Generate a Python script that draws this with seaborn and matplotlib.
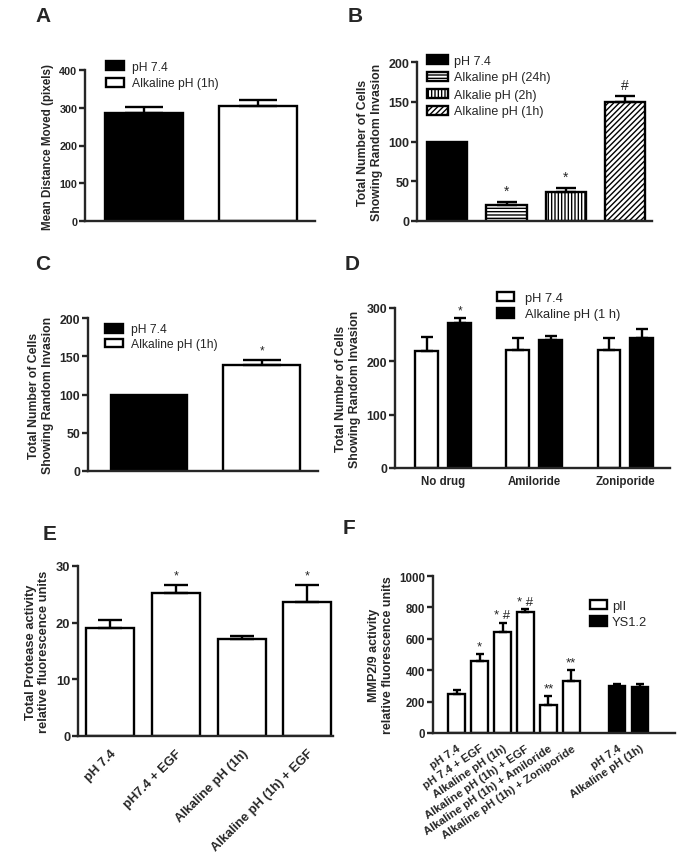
import matplotlib
matplotlib.use("Agg")
import numpy as np
import pandas as pd
import seaborn as sns
import matplotlib.pyplot as plt

# panel A - migration
a_groups = ["pH 7.4", "Alkaline pH (1h)"]
a_means = [287, 304]
a_sem = [15, 17]

# panel B - random invasion, time course
b_groups = ["pH 7.4", "Alkaline pH (24h)", "Alkalie pH (2h)", "Alkaline pH (1h)"]
b_means = [100, 20, 36.5, 149.5]
b_sem = [0, 4.5, 4.5, 8]
b_marks = ["", "*", "*", "#"]

# panel C - random invasion
c_groups = ["pH 7.4", "Alkaline pH (1h)"]
c_means = [100, 138]
c_sem = [0, 7.5]
c_marks = ["", "*"]

# panel D - NHE inhibitors
d_drugs = ["No drug", "Amiloride", "Zoniporide"]
d_conditions = ["pH 7.4", "Alkaline pH (1 h)"]
d_ph74 = [219, 221, 221]
d_ph74_sem = [27, 23, 22]
d_alk = [272, 240, 243]
d_alk_sem = [9, 8, 18]
d_alk_marks = ["*", "", ""]

# panel E - total protease activity
e_groups = ["pH 7.4", "pH7.4 + EGF", "Alkaline pH (1h)", "Alkaline pH (1h) + EGF"]
e_means = [19.0, 25.2, 17.2, 23.6]
e_sem = [1.5, 1.5, 0.4, 3.1]
e_marks = ["", "*", "", "*"]

# panel F - MMP2/9 activity
f_groups = ["pH 7.4", "pH 7.4 + EGF", "Alkaline pH (1h)", "Alkaline pH (1h) + EGF",
            "Alkaline pH (1h) + Amiloride", "Alkaline pH (1h) + Zoniporide",
            "pH 7.4", "Alkaline pH (1h)"]
f_cells = ["pII"] * 6 + ["YS1.2"] * 2
f_means = [250, 459, 641, 770, 176, 332, 300, 292]
f_sem = [25, 43, 62, 17, 59, 70, 9, 23]
f_marks = ["", "*", "* #", "* #", "**", "**", "", ""]

sns.set_style("ticks")
plt.rcParams["font.family"] = ["Liberation Sans", "DejaVu Sans"]
plt.rcParams["hatch.linewidth"] = 1.0

W, H = 683, 853
LW = 1.7
fig = plt.figure(figsize=(W / 100, H / 100), dpi=100)


def px_axes(l, t, r, b):
    return fig.add_axes([l / W, 1 - b / H, (r - l) / W, (b - t) / H])


def style(ax, yticks, size):
    sns.despine(ax=ax)
    ax.set_ylim(0, yticks[-1])
    ax.set_yticks(yticks)
    ax.tick_params(axis="y", length=4, width=LW, labelsize=size, pad=1.5)
    ax.tick_params(axis="x", length=0)
    for s in ["left", "bottom"]:
        ax.spines[s].set_linewidth(LW)
    plt.setp(ax.get_yticklabels(), fontweight="bold")
    ax.set_xlabel("")


def add_errors(ax, means, sems, capsize, marks=None, mark_size=8, mark_off=2):
    bars = sorted(ax.patches, key=lambda p: p.get_x())
    xs = [p.get_x() + p.get_width() / 2 for p in bars]
    for x, m, s in zip(xs, means, sems):
        if s > 0:
            ax.errorbar([x], [m], yerr=[[0], [s]], fmt="none", ecolor="black",
                        elinewidth=LW, capsize=capsize, capthick=LW)
    if marks:
        for x, m, s, t in zip(xs, means, sems, marks):
            if t:
                ax.annotate(t, xy=(x, m + s), xytext=(0, mark_off), textcoords="offset points",
                            ha="center", va="bottom", fontsize=mark_size)
    return bars


def legend(ax, handles, labels, x, y, size=8.7, hl=1.5, hh=0.75, ls=0.4, tp=0.65):
    ax.legend(handles, labels, loc="upper left", bbox_to_anchor=(x / W, 1 - y / H),
              bbox_transform=fig.transFigure, frameon=False, borderpad=0, borderaxespad=0,
              fontsize=size, handlelength=hl, handleheight=hh, labelspacing=ls,
              handletextpad=tp)


def panel_letter(x, y, s):
    fig.text(x / W, 1 - y / H, s, fontsize=15, fontweight="bold", ha="center", va="center")


# ---- A
ax = px_axes(85, 71, 315, 222)
sns.barplot(x=a_groups, y=a_means, hue=a_groups, palette=["black", "white"], saturation=1,
            edgecolor="black", linewidth=LW, width=0.68, legend=False, ax=ax)
bars = add_errors(ax, a_means, a_sem, capsize=14)
style(ax, [0, 100, 200, 300, 400], 7.8)
ax.set_xticks([])
ax.set_xlim(-0.52, 1.5)
ax.set_ylabel("Mean Distance Moved (pixels)", fontsize=8.4, fontweight="bold")
legend(ax, bars, a_groups, 106, 61.5)

# ---- B
ax = px_axes(417, 63, 652, 222)
sns.barplot(x=b_groups, y=b_means, hue=b_groups, palette=["black", "white", "white", "white"],
            saturation=1, edgecolor="black", linewidth=LW, width=0.68, legend=False, ax=ax)
bars = sorted(ax.patches, key=lambda p: p.get_x())
for p, h in zip(bars, ["", "-----", "|||||", "//////"]):
    p.set_hatch(h)
add_errors(ax, b_means, b_sem, capsize=7, marks=b_marks, mark_size=10, mark_off=3)
style(ax, [0, 50, 100, 150, 200], 9)
ax.set_xticks([])
ax.set_xlim(-0.51, 3.45)
ax.set_ylabel("Total Number of Cells\nShowing Random Invasion", fontsize=8.8, fontweight="bold")
legend(ax, bars, b_groups, 427, 55.5, size=9, hl=1.7, ls=0.4, tp=0.5)

# ---- C
ax = px_axes(88, 319, 318, 472)
sns.barplot(x=c_groups, y=c_means, hue=c_groups, palette=["black", "white"], saturation=1,
            edgecolor="black", linewidth=LW, width=0.68, legend=False, ax=ax)
bars = add_errors(ax, c_means, c_sem, capsize=14, marks=c_marks, mark_size=8.5, mark_off=2)
style(ax, [0, 50, 100, 150, 200], 8.8)
ax.set_xticks([])
ax.set_xlim(-0.54, 1.5)
ax.set_ylabel("Total Number of Cells\nShowing Random Invasion", fontsize=8.8, fontweight="bold")
legend(ax, bars, c_groups, 105, 324.5, ls=0.22)

# ---- D
d_df = pd.DataFrame({
    "drug": d_drugs * 2,
    "cond": [d_conditions[0]] * 3 + [d_conditions[1]] * 3,
    "val": d_ph74 + d_alk,
})
ax = px_axes(395, 309, 670, 469)
sns.barplot(data=d_df, x="drug", y="val", hue="cond", hue_order=d_conditions,
            palette=["white", "black"], saturation=1, edgecolor="black", linewidth=LW,
            width=0.72, gap=0.3, legend=False, ax=ax)
d_means = [v for pair in zip(d_ph74, d_alk) for v in pair]
d_sems = [v for pair in zip(d_ph74_sem, d_alk_sem) for v in pair]
d_marks = [v for pair in zip([""] * 3, d_alk_marks) for v in pair]
bars = add_errors(ax, d_means, d_sems, capsize=4.5, marks=d_marks, mark_size=8.5, mark_off=1)
style(ax, [0, 100, 200, 300], 8.8)
ax.set_xlim(-0.53, 2.49)
ax.tick_params(axis="x", labelsize=8.3, pad=5)
plt.setp(ax.get_xticklabels(), fontweight="bold")
ax.set_ylabel("Total Number of Cells\nShowing Random Invasion", fontsize=8.8, fontweight="bold")
legend(ax, bars[:2], d_conditions, 497, 292.5, size=9.3, hl=1.3, tp=0.85, ls=0.35)

# ---- E
ax = px_axes(78, 567, 333, 737)
sns.barplot(x=e_groups, y=e_means, color="white", saturation=1, edgecolor="black",
            linewidth=LW, width=0.73, ax=ax)
add_errors(ax, e_means, e_sem, capsize=8.5, marks=e_marks, mark_size=9, mark_off=2)
style(ax, [0, 10, 20, 30], 9.3)
ax.set_xlim(-0.49, 3.39)
ax.set_xticks(range(len(e_groups)))
ax.set_xticklabels(e_groups, rotation=45, ha="right", rotation_mode="anchor",
                   fontsize=9.3, fontweight="bold")
ax.tick_params(axis="x", pad=8)
ax.set_ylabel("Total Protease activity\nrelative fluorescence units", fontsize=9.3,
              fontweight="bold")

# ---- F
f_pos = [i + (c == "YS1.2") for i, c in enumerate(f_cells)]
f_df = pd.DataFrame({"pos": f_pos, "val": f_means, "cell": f_cells})
ax = px_axes(433, 577, 675, 734)
sns.barplot(data=f_df, x="pos", y="val", hue="cell", native_scale=True, dodge=False,
            palette={"pII": "white", "YS1.2": "black"}, saturation=1, edgecolor="black",
            linewidth=LW, width=0.72, legend=False, ax=ax)
bars = add_errors(ax, f_means, f_sem, capsize=3, marks=f_marks, mark_size=9.5, mark_off=1)
style(ax, [0, 200, 400, 600, 800, 1000], 8.3)
ax.set_xlim(-1.03, 9.52)
ax.set_xticks(f_pos)
ax.set_xticklabels(f_groups, rotation=34, ha="right", rotation_mode="anchor",
                   fontsize=8.2, fontweight="bold")
ax.tick_params(axis="x", pad=7)
ax.set_ylabel("MMP2/9 activity\nrelative fluorescence units", fontsize=9, fontweight="bold")
legend(ax, [bars[0], bars[-1]], ["pII", "YS1.2"], 590, 600.5, size=9.3, hl=1.3, tp=0.4, ls=0.35)

for x, y, s in [(43, 16, "A"), (355, 16, "B"), (43, 265, "C"), (352, 265, "D"),
                (50, 535, "E"), (349, 528, "F")]:
    panel_letter(x, y, s)

fig.savefig("out.png", dpi=100, facecolor="white")
